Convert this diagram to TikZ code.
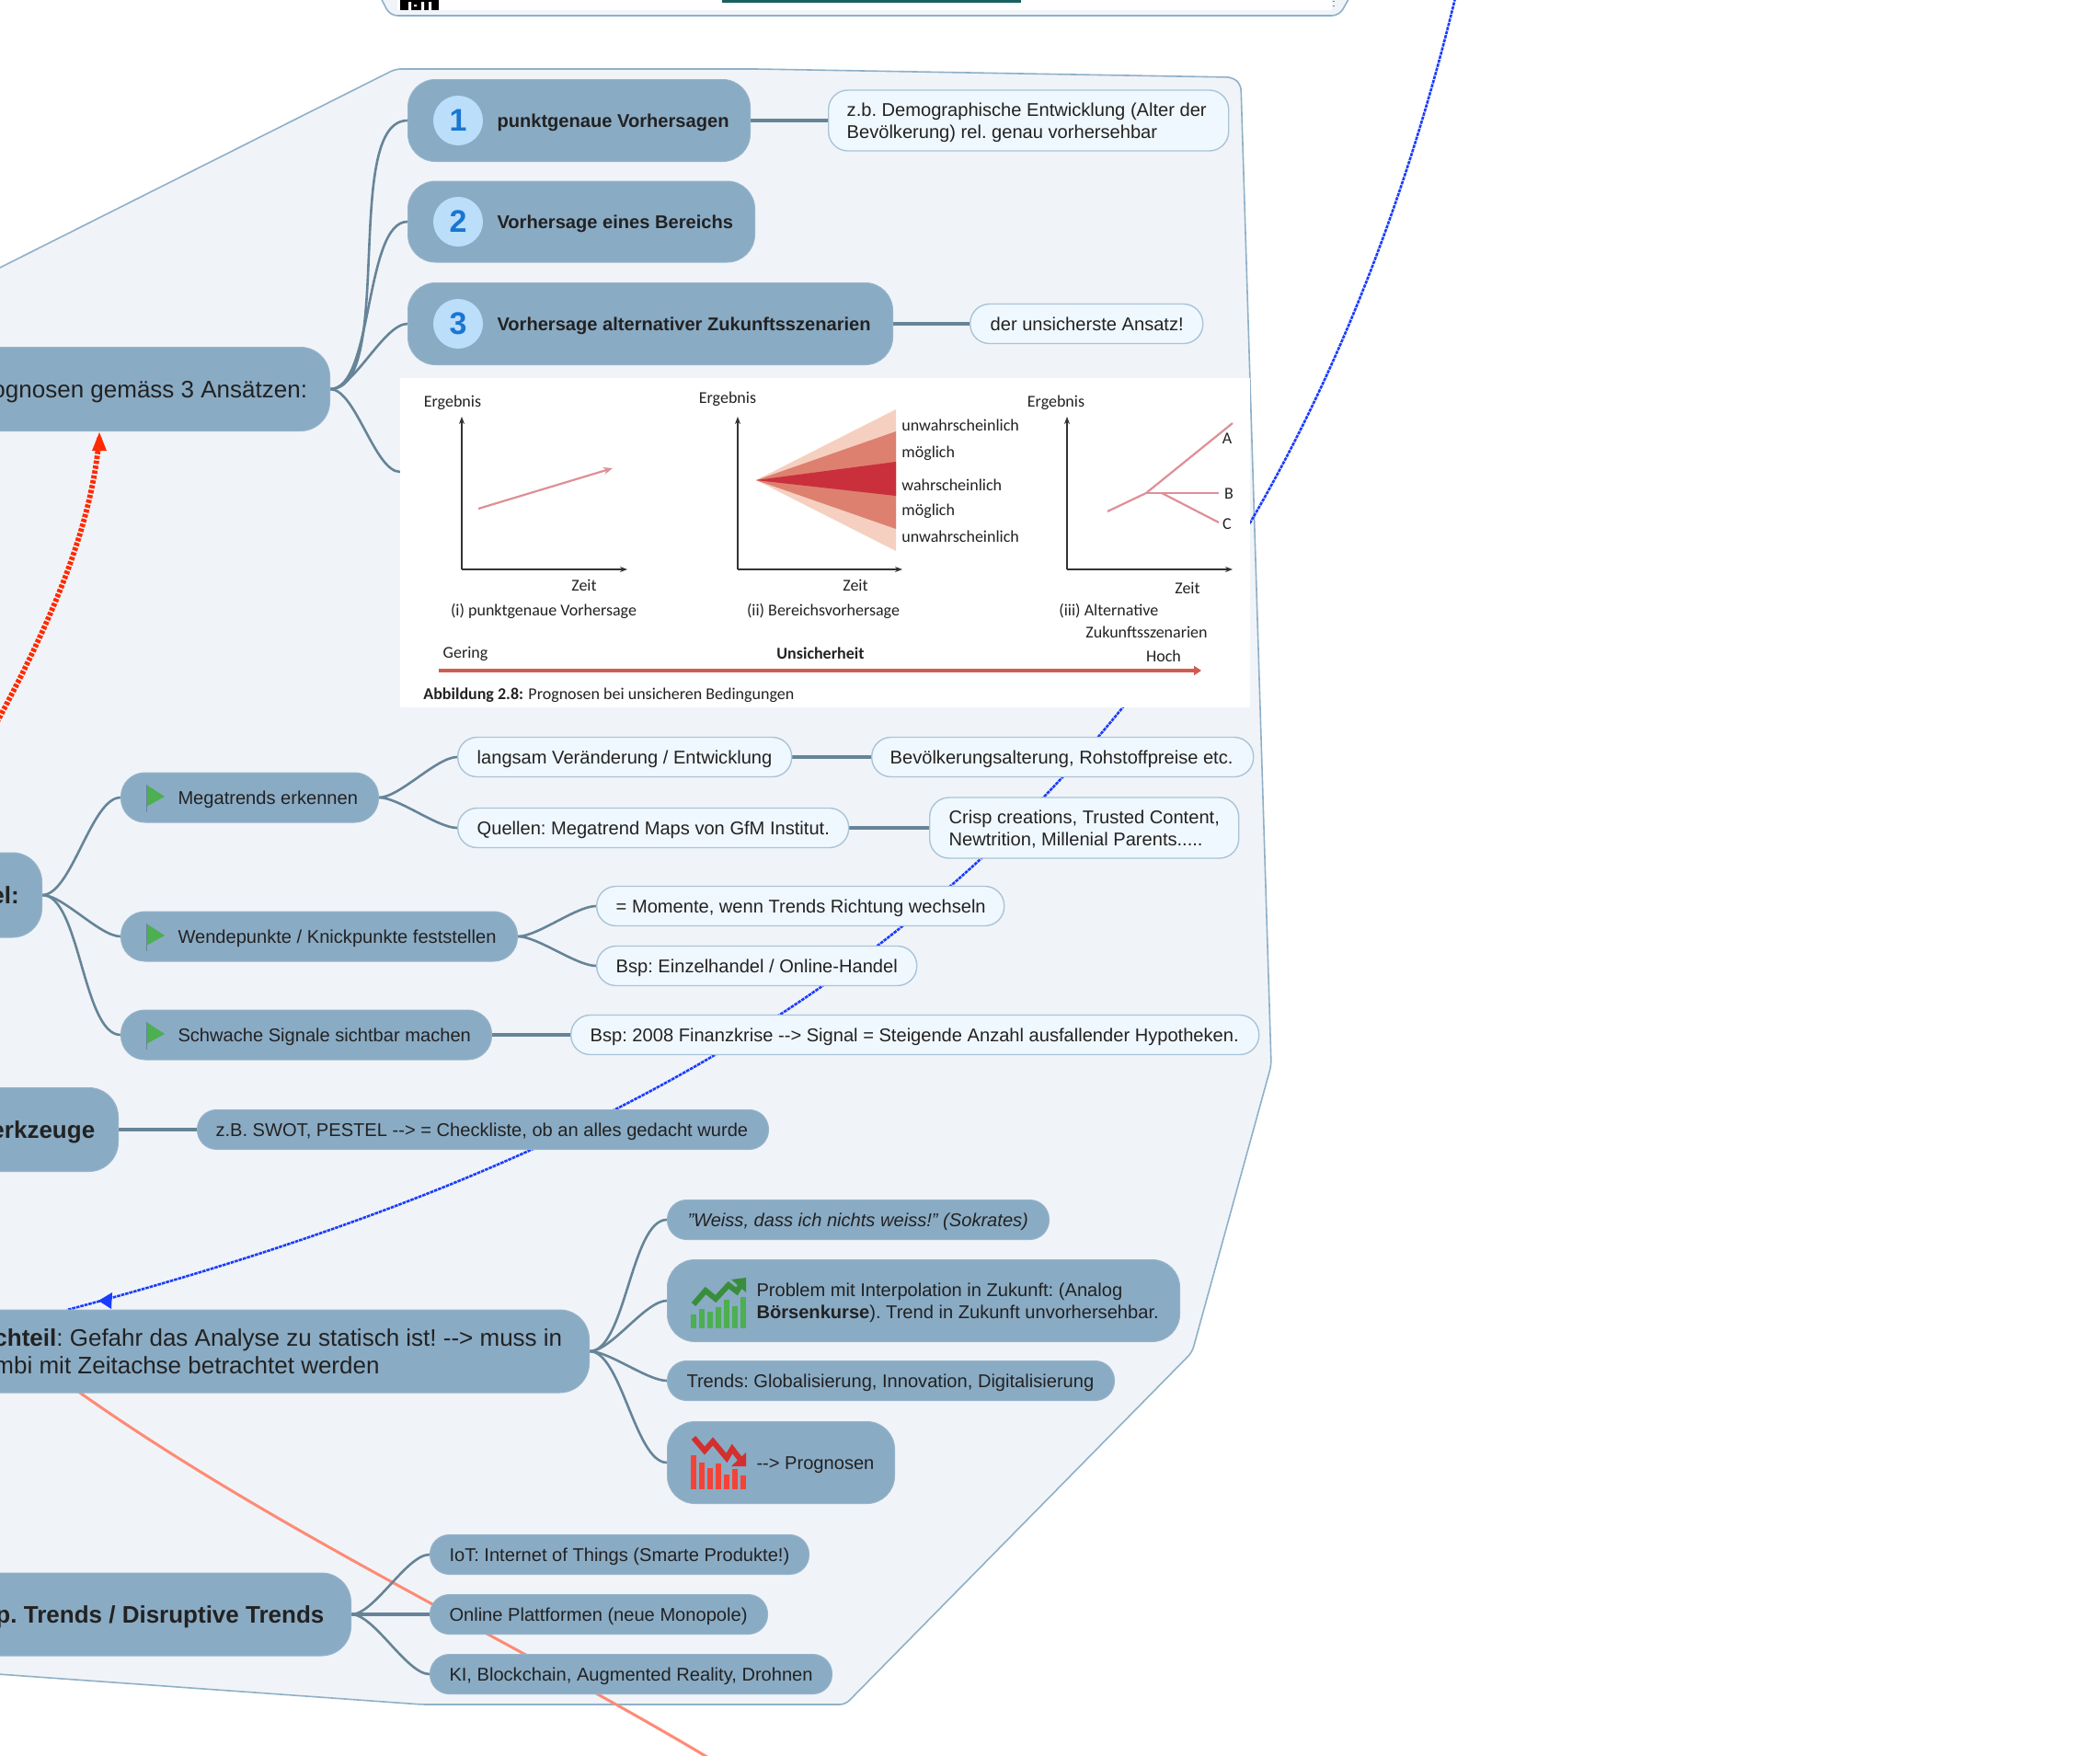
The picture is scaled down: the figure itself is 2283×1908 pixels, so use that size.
\documentclass[tikz,border=0pt]{standalone}
\usepackage{fontspec}
\setmainfont{Liberation Sans}
\newfontfamily\figfont{Carlito}
\usetikzlibrary{arrows.meta}
\pgfdeclarelayer{bg}
\pgfsetlayers{bg,main}
\definecolor{hubfill}{HTML}{8AABC4}
\definecolor{notefill}{HTML}{F0F8FF}
\definecolor{noteline}{HTML}{A9C4D8}
\definecolor{panelfill}{HTML}{F0F4F8}
\definecolor{panelline}{HTML}{8FB0C8}
\definecolor{connc}{HTML}{668498}
\definecolor{inkc}{HTML}{222222}
\definecolor{bluelink}{HTML}{1A3CFF}
\definecolor{redlink}{HTML}{FF2A00}
\definecolor{salmon}{HTML}{FF8A75}
\definecolor{figaxis}{HTML}{333333}
\definecolor{figred}{HTML}{DE8F97}
\definecolor{fanA}{HTML}{F5D0C0}
\definecolor{fanB}{HTML}{DD8070}
\definecolor{fanC}{HTML}{C9303C}
\definecolor{barrule}{HTML}{CF5C50}
\definecolor{numfill}{HTML}{BBDEFB}
\definecolor{numink}{HTML}{1976D2}
\definecolor{flagc}{HTML}{4CAF50}
\definecolor{upbar}{HTML}{4CAF50}
\definecolor{upline}{HTML}{388E3C}
\definecolor{downbar}{HTML}{F44336}
\definecolor{downline}{HTML}{D32F2F}
\tikzset{
  hub/.style={draw=hubfill!90!white,line width=.5pt,fill=hubfill,rounded corners=15pt,inner sep=0pt,text=inkc,font=\fontsize{10.05}{12}\selectfont},
  hubbold/.style={hub,font=\fontsize{10.05}{12}\selectfont\bfseries},
  top/.style={hub,rounded corners=16pt,font=\fontsize{13}{15}\selectfont},
  topbold/.style={hub,rounded corners=16pt,font=\fontsize{13}{15}\selectfont\bfseries},
  small/.style={hub,rounded corners=10.5pt},
  note/.style={hub,draw=noteline,line width=.7pt,fill=notefill,rounded corners=10.5pt},
  conn/.style={draw=connc,line width=1.3pt,out=0,in=180,looseness=.6},
  straightconn/.style={draw=connc,line width=1.9pt},
  numdisc/.style={circle,fill=numfill,text=numink,minimum size=27pt,inner sep=0pt,font=\fontsize{17}{17}\selectfont\bfseries},
  figtext/.style={inner sep=0pt,text=inkc,font=\fontsize{9}{10}\selectfont\figfont},
  figaxisline/.style={draw=figaxis,line width=.7pt,-{Stealth[length=4pt,width=3pt]}},
  figcurve/.style={draw=figred,line width=1.1pt},
}
\newlength{\pillw}\newlength{\pilli}
\newcommand{\pilltext}{}
\newcommand{\setp}[1]{\renewcommand{\pilltext}{\raisebox{-.36em}[0pt][0pt]{\begin{tabular}[c]{@{}l@{}}#1\end{tabular}}}}
\newcommand{\pill}[7]{%
  \pgfmathsetlength{\pillw}{(#4-#3)*0.5}%
  \pgfmathsetlength{\pilli}{(#6-#3)*0.5}%
  \node[#1,anchor=west,minimum width=\pillw,minimum height={#7}] (#2) at (#3,#5) {\frenchspacing\makebox[\pillw][l]{\hspace{\pilli}\pilltext}};}
\begin{document}
\begin{tikzpicture}[x=0.5pt,y=-0.5pt]
\useasboundingbox (0,0) rectangle (2283,1908);
\clip (0,0) rectangle (2283,1908);
% links and panels, under all nodes
\begin{pgfonlayer}{bg}
\fill[white] (0,0) rectangle (2283,1908);
\path[fill=panelfill,draw=panelline,line width=.8pt,rounded corners=3pt]
  (-30,306) -- (430,75) -- (823,75) -- (1340,84) -- (1349,92) -- (1382,1158) -- (1296,1470) -- (919,1853) -- (459,1853) -- (-30,1818) -- cycle;
\path[fill=panelfill,draw=panelline,line width=.8pt,rounded corners=4pt]
  (411,-8) -- (424,17) -- (1456,17) -- (1470,-8) -- cycle;
\fill[white] (432,-5) rectangle (1448,11);
\fill[black] (435,0) rectangle (477,11);
\fill[white] (444,2) rectangle (447,11) (450,5) rectangle (453,7) (458,2) rectangle (461,11) (466,2) rectangle (469,11);
\fill[teal!70!black!80!gray] (785,-2) rectangle (1110,3);
\draw[gray,line width=.6pt,dotted] (1450,1) -- (1450,11);
\coordinate (blueStart) at (1582,-2);
\coordinate (blueEnd) at (73,1424);
\draw[bluelink,line width=1.3pt,dash pattern=on 1.8pt off .5pt] (blueStart) .. controls (1360,910) and (785,1235) .. (blueEnd);
\fill[bluelink] (107,1414) -- (122,1405) -- (121,1423) -- cycle;
\coordinate (redStart) at (-6,790);
\coordinate (redEnd) at (108,476);
\draw[redlink,line width=2.9pt,dash pattern=on 1.8pt off .9pt] (redStart) .. controls (70,650) and (100,560) .. (redEnd);
\fill[redlink] (108,470) -- (116,490) -- (100,490) -- cycle;
\coordinate (salmonStart) at (84,1512);
\coordinate (salmonEnd) at (772,1912);
\draw[salmon,line width=1.5pt] (salmonStart) .. controls (300,1665) and (560,1785) .. (salmonEnd);
\end{pgfonlayer}
% figure
\node[fill=white,anchor=north west,minimum width=462pt,minimum height=179pt,inner sep=0pt] (img) at (435,411) {};
\coordinate (imgIn) at (435,513);
\foreach \n/\ox/\xe in {a/502/682,b/802/981,c/1160/1340}{
  \coordinate (o\n) at (\ox,619);
  \coordinate (t\n) at (\ox,453);
  \coordinate (e\n) at (\xe,619);
  \draw[figaxisline] (o\n) -- (t\n);
  \draw[figaxisline] (o\n) -- (e\n);
}
\node[figtext] (l1) at (492,438) {Ergebnis};
\node[figtext] (l2) at (791,434) {Ergebnis};
\node[figtext] (l3) at (1148,438) {Ergebnis};
\node[figtext] (z1) at (635,636) {Zeit};
\node[figtext] (z2) at (930,636) {Zeit};
\node[figtext] (z3) at (1291,639) {Zeit};
\draw[figcurve,-{Stealth[length=5pt,width=4pt]}] (520,553) -- (666,509);
\fill[fanA] (822,522) -- (974,445) -- (974,599) -- cycle;
\fill[fanB] (822,522) -- (974,469) -- (974,575) -- cycle;
\fill[fanC] (822,522) -- (974,502) -- (974,539) -- cycle;
\node[figtext,anchor=west] (f1) at (980,462) {unwahrscheinlich};
\node[figtext,anchor=west] (f2) at (980,493) {möglich};
\node[figtext,anchor=west] (f3) at (980,527) {wahrscheinlich};
\node[figtext,anchor=west] (f4) at (980,556) {möglich};
\node[figtext,anchor=west] (f5) at (980,583) {unwahrscheinlich};
\draw[figcurve] (1204,556) -- (1246,536) -- (1340,460);
\draw[figcurve] (1246,536) -- (1325,536);
\draw[figcurve] (1263,536) -- (1325,568);
\node[figtext] (la) at (1334,477) {A};
\node[figtext] (lb) at (1336,537) {B};
\node[figtext] (lc) at (1334,570) {C};
\node[figtext] (c1) at (591,664) {(i) punktgenaue Vorhersage};
\node[figtext] (c2) at (895,664) {(ii) Bereichsvorhersage};
\node[figtext,anchor=west] (c3) at (1151,664) {(iii) Alternative};
\node[figtext,anchor=west] (c4) at (1180,687) {Zukunftsszenarien};
\node[figtext] (g1) at (506,711) {Gering};
\node[figtext,font=\fontsize{9}{10}\selectfont\figfont\bfseries] (g2) at (892,710) {Unsicherheit};
\node[figtext] (g3) at (1265,713) {Hoch};
\draw[draw=barrule,line width=2.3pt,-{Stealth[length=4pt,width=5pt,inset=0pt]}] (477,729) -- (1306,729);
\node[figtext,anchor=west] (cap) at (460,756) {\bfseries Abbildung 2.8:\mdseries{} Prognosen bei unsicheren Bedingungen};
% level one hubs
\setp{ognosen gemäss 3 Ansätzen:}\pill{top}{root}{-100}{358}{423}{-9}{45.5pt}
\setp{el:}\pill{topbold}{sig}{-100}{45}{973}{-10}{46pt}
\setp{erkzeuge}\pill{topbold}{werk}{-100}{128}{1228}{-10}{45.5pt}
\setp{\textbf{chteil}: Gefahr das Analyse zu statisch ist! -{}-> muss in\\mbi mit Zeitachse betrachtet werden}\pill{top}{nach}{-100}{640}{1469}{-7}{45pt}
\setp{p. Trends / Disruptive Trends}\pill{topbold}{disr}{-100}{381}{1755}{-5}{45pt}
% three approaches
\setp{punktgenaue Vorhersagen}\pill{hubbold}{a1}{443}{815}{131}{540}{44.5pt}
\setp{Vorhersage eines Bereichs}\pill{hubbold}{a2}{443}{820}{241}{540}{44pt}
\setp{Vorhersage alternativer Zukunftsszenarien}\pill{hubbold}{a3}{443}{970}{352}{540}{44.5pt}
\node[numdisc] (n1) at (498,131) {1};
\node[numdisc] (n2) at (498,241) {2};
\node[numdisc] (n3) at (498,352) {3};
\setp{z.b. Demographische Entwicklung (Alter der\\Bevölkerung) rel. genau vorhersehbar}\pill{note}{a1n}{900}{1335}{131}{920}{33pt}
\setp{der unsicherste Ansatz!}\pill{note}{a3n}{1054}{1307}{352}{1076}{21.5pt}
% signals
\setp{Megatrends erkennen}\pill{hub,rounded corners=13pt}{s1}{131}{411}{867}{193}{27pt}
\setp{Wendepunkte / Knickpunkte feststellen}\pill{hub,rounded corners=13pt}{s2}{131}{562}{1018}{193}{27pt}
\setp{Schwache Signale sichtbar machen}\pill{hub,rounded corners=13pt}{s3}{131}{534}{1125}{193}{27pt}
\foreach \yy in {866,1017,1124}{
  \fill[flagc] (159,\yy-13) -- (179,\yy) -- (159,\yy+11) -- cycle;
  \draw[connc,line width=.4pt] (159,\yy-13) -- (159,\yy+17);
}
\setp{langsam Veränderung / Entwicklung}\pill{note}{m1}{497}{860}{823}{518}{21.5pt}
\setp{Bevölkerungsalterung, Rohstoffpreise etc.}\pill{note}{m1n}{947}{1362}{823}{967}{21.5pt}
\setp{Quellen: Megatrend Maps von GfM Institut.}\pill{note}{m2}{497}{922}{900}{518}{21.5pt}
\setp{Crisp creations, Trusted Content,\\Newtrition, Millenial Parents.....}\pill{note}{m2n}{1010}{1346}{900}{1031}{33pt}
\setp{= Momente, wenn Trends Richtung wechseln}\pill{note}{w1}{648}{1091}{985}{669}{21.5pt}
\setp{Bsp: Einzelhandel / Online-Handel}\pill{note}{w2}{648}{996}{1050}{669}{21.5pt}
\setp{Bsp: 2008 Finanzkrise -{}-> Signal = Steigende Anzahl ausfallender Hypotheken.}\pill{note}{ss}{620}{1368}{1125}{641}{21.5pt}
\setp{z.B. SWOT, PESTEL -{}-> = Checkliste, ob an alles gedacht wurde}\pill{small}{swot}{214}{835}{1228}{234}{21.5pt}
% nachteil children
\setp{\itshape "Weiss, dass ich nichts weiss!" (Sokrates)}\pill{small}{d1}{725}{1140}{1326}{747}{21.5pt}
\setp{Problem mit Interpolation in Zukunft: (Analog\\\textbf{Börsenkurse}). Trend in Zukunft unvorhersehbar.}\pill{hub}{d2}{725}{1282}{1414}{822}{44.5pt}
\setp{Trends: Globalisierung, Innovation, Digitalisierung}\pill{small}{d3}{725}{1211}{1501}{746}{21.5pt}
\setp{-{}-> Prognosen}\pill{hub}{d4}{725}{972}{1590}{822}{44.5pt}
\setp{IoT: Internet of Things (Smarte Produkte!)}\pill{small}{t1}{467}{879}{1690}{488}{21.5pt}
\setp{Online Plattformen (neue Monopole)}\pill{small}{t2}{467}{834}{1755}{488}{21.5pt}
\setp{KI, Blockchain, Augmented Reality, Drohnen}\pill{small}{t3}{467}{904}{1820}{488}{21.5pt}
% icons
\foreach \bx/\bt in {751/1429,760/1423,769/1426,778/1421,787/1413,796/1420,805/1410}
  \fill[upbar] (\bx,\bt) rectangle (\bx+6,1444);
\draw[upline,line width=3pt] (754,1418) -- (767,1403) -- (778,1412) -- (792,1397) -- (801,1404) -- (806,1396);
\fill[upline] (811,1389) -- (811,1405) -- (795,1391) -- cycle;
\foreach \bx/\bt in {751/1582,760/1590,769/1596,778/1591,787/1603,796/1597,805/1604}
  \fill[downbar] (\bx,\bt) rectangle (\bx+6,1619);
\draw[downline,line width=3pt] (754,1563) -- (766,1577) -- (775,1567) -- (790,1585) -- (796,1575) -- (806,1588);
\fill[downline] (811,1594) -- (795,1594) -- (811,1579) -- cycle;
% connectors
\begin{pgfonlayer}{bg}
\draw[conn] (root.east) to (a1.west);
\draw[conn] (root.east) to (a2.west);
\draw[conn] (root.east) to (a3.west);
\draw[conn] (root.east) to (imgIn);
\draw[straightconn] (a1.east) -- (a1n.west);
\draw[straightconn] (a3.east) -- (a3n.west);
\draw[conn] (sig.east) to (s1.west);
\draw[conn] (sig.east) to (s2.west);
\draw[conn] (sig.east) to (s3.west);
\draw[conn] (s1.east) to (m1.west);
\draw[conn] (s1.east) to (m2.west);
\draw[straightconn] (m1.east) -- (m1n.west);
\draw[straightconn] (m2.east) -- (m2n.west);
\draw[conn] (s2.east) to (w1.west);
\draw[conn] (s2.east) to (w2.west);
\draw[straightconn] (s3.east) -- (ss.west);
\draw[straightconn] (werk.east) -- (swot.west);
\draw[conn] (nach.east) to (d1.west);
\draw[conn] (nach.east) to (d2.west);
\draw[conn] (nach.east) to (d3.west);
\draw[conn] (nach.east) to (d4.west);
\draw[conn] (disr.east) to (t1.west);
\draw[straightconn] (disr.east) -- (t2.west);
\draw[conn] (disr.east) to (t3.west);
\end{pgfonlayer}
\end{tikzpicture}
\end{document}
